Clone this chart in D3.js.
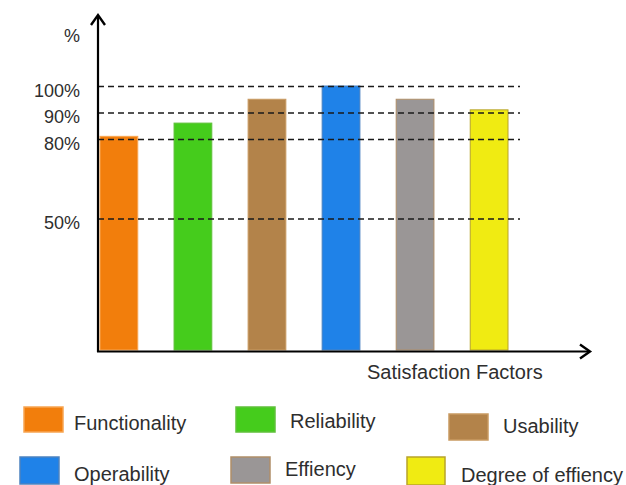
<!DOCTYPE html>
<html>
<head>
<meta charset="utf-8">
<script src="https://cdn.jsdelivr.net/npm/d3@7"></script>
<style>
  html, body { margin: 0; padding: 0; background: #fff; }
  svg { display: block; }
  text { font-family: "Liberation Sans", Arial, sans-serif; fill: #2e2e2e; }
</style>
</head>
<body>
<svg id="chart" width="626" height="485"></svg>
<script>
// ---- data ----
const categories = ["Functionality", "Reliability", "Usability", "Operability", "Effiency", "Degree of effiency"];
const values = [81, 86, 95, 100, 95, 91];
const tickValues = [50, 80, 90, 100];
const tickLabels = ["50%", "80%", "90%", "100%"];
const yAxisTitle = "%";
const xAxisTitle = "Satisfaction Factors";

// ---- styles ----
const fills = ["#F27E0C", "#45CC1C", "#B3834A", "#1F82E8", "#9A9696", "#F0EB12"];
const strokes = ["#F7A552", "#5FC03A", "#C99A62", "#4C82C0", "#B08E68", "#B8A42A"];

const svg = d3.select("#chart");

const x = d3.scaleBand().domain(categories).range([100, 508]).paddingInner(0.49).paddingOuter(0);
const y = d3.scaleLinear().domain([0, 100]).range([351, 86]);

// bars
svg.append("g").selectAll("rect").data(categories).join("rect")
  .attr("x", d => x(d))
  .attr("y", (d, i) => y(values[i]))
  .attr("width", x.bandwidth())
  .attr("height", (d, i) => y(0) - y(values[i]) - 1)
  .attr("fill", (d, i) => fills[i])
  .attr("stroke", (d, i) => strokes[i])
  .attr("stroke-width", 1);

// dashed gridlines (drawn over bars)
const yAxis = d3.axisLeft(y).tickValues(tickValues).tickSize(-(520 - 98)).tickFormat("");
const gAxis = svg.append("g").attr("transform", "translate(98,0)").call(yAxis);
gAxis.select(".domain").remove();
gAxis.selectAll(".tick line")
  .attr("stroke", "#1a1a1a")
  .attr("stroke-width", 1.4)
  .attr("stroke-dasharray", "6,4");

// tick labels
svg.append("g").selectAll("text").data(tickValues).join("text")
  .attr("x", 80)
  .attr("y", d => y(d) + 10.5)
  .attr("text-anchor", "end")
  .attr("font-size", 18)
  .text((d, i) => tickLabels[i]);

// y axis title
svg.append("text").attr("x", 80).attr("y", 42).attr("text-anchor", "end")
  .attr("font-size", 18).text(yAxisTitle);

// axes lines with arrows
svg.append("line").attr("x1", 98).attr("y1", 352).attr("x2", 98).attr("y2", 16)
  .attr("stroke", "#000").attr("stroke-width", 2.2);
svg.append("path").attr("d", "M91,25 L98,15 L105,25")
  .attr("fill", "none").attr("stroke", "#000").attr("stroke-width", 2.4);
svg.append("line").attr("x1", 97).attr("y1", 351.5).attr("x2", 589).attr("y2", 351.5)
  .attr("stroke", "#000").attr("stroke-width", 2.2);
svg.append("path").attr("d", "M580,344.5 L590,351.5 L580,358.5")
  .attr("fill", "none").attr("stroke", "#000").attr("stroke-width", 2.4);

// x axis title
svg.append("text").attr("x", 367).attr("y", 379).attr("font-size", 20).text(xAxisTitle);

// legend (layout positions)
const legendLayout = [
  { sx: 24, sy: 407, w: 39, h: 25, tx: 74, ty: 430 },
  { sx: 236, sy: 407, w: 39, h: 25, tx: 290, ty: 428 },
  { sx: 449, sy: 414, w: 39, h: 26, tx: 503, ty: 433 },
  { sx: 20, sy: 457, w: 39, h: 27, tx: 74, ty: 481 },
  { sx: 231, sy: 457, w: 39, h: 26, tx: 285, ty: 476 },
  { sx: 407, sy: 457, w: 38, h: 28, tx: 461, ty: 482 }
];
const lg = svg.append("g");
categories.forEach((c, i) => {
  const L = legendLayout[i];
  lg.append("rect").attr("x", L.sx).attr("y", L.sy).attr("width", L.w).attr("height", L.h)
    .attr("fill", fills[i]).attr("stroke", strokes[i]).attr("stroke-width", 1.5);
  lg.append("text").attr("x", L.tx).attr("y", L.ty).attr("font-size", 20).text(c);
});
</script>
</body>
</html>
